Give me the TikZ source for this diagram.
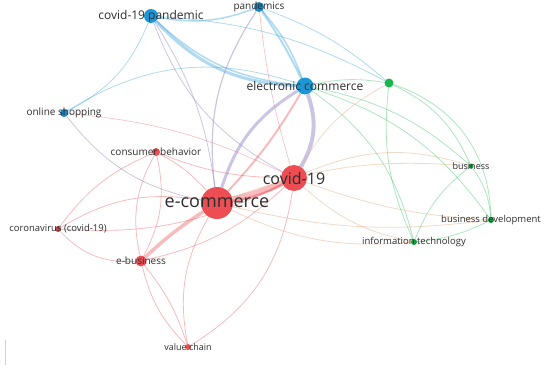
\documentclass[tikz,border=0pt]{standalone}
\usepackage{fontspec}
\setmainfont{Open Sans}
\usepackage{tikz}
\usetikzlibrary{positioning}
\definecolor{vred}{RGB}{236,78,84}
\definecolor{vblue}{RGB}{28,150,212}
\definecolor{vgreen}{RGB}{24,182,74}
\definecolor{vmix}{RGB}{160,150,205}
\definecolor{vorange}{RGB}{225,170,130}
\definecolor{vtext}{RGB}{45,45,45}
\pgfdeclarelayer{edges}
\pgfsetlayers{edges,main}

\begin{document}
\begin{tikzpicture}[x=1pt, y=-1pt,
    dot/.style={circle, inner sep=0pt, minimum size=#1},
    lab/.style={text=vtext, inner sep=0pt, font=\fontsize{#1}{#1}\selectfont},
    redE/.style={vred, opacity=0.38, line width=#1},
    redE/.default=0.8,
    blueE/.style={vblue, opacity=0.35, line width=#1},
    blueE/.default=0.8,
    greenE/.style={vgreen, opacity=0.35, line width=0.8},
    mixE/.style={vmix, opacity=0.55, line width=#1},
    mixE/.default=0.8,
    orE/.style={vorange, opacity=0.45, line width=0.8}
]
\useasboundingbox (0,0) rectangle (550,372);

% Blue cluster
\node[dot=14, fill=vblue, label={[lab=12]center:covid-19 pandemic}] (pandemic) at (151,16) {};
\node[dot=10, fill=vblue!90!black, label={[lab=10]center:pandemics}] (pandemics) at (259,7) {};
\node[dot=17, fill=vblue, label={[lab=12]center:electronic commerce}] (elec) at (305,86) {};
\node[dot=8, fill=vblue!90!black, label={[lab=10]center:online shopping}] (shopping) at (64,113) {};

% Red cluster
\node[dot=32, fill=vred, label={[lab=18]center:e-commerce}] (ecom) at (217,203) {};
\node[dot=26, fill=vred, label={[lab=16]center:covid-19}] (covid) at (294,178) {};
\node[dot=8, fill=vred, label={[lab=10]center:consumer behavior}] (consumer) at (156,152) {};
\node[dot=6, fill=vred!85!black, label={[lab=9.5]center:coronavirus (covid-19)}] (corona) at (58,229) {};
\node[dot=11, fill=vred, label={[lab=10]center:e-business}] (ebus) at (141,261) {};
\node[dot=6, fill=vred, label={[lab=9]center:value chain}] (value) at (188,347) {};

% Green cluster
\node[dot=9, fill=vgreen] (gnode) at (389,83) {};
\node[dot=5, fill=vgreen!85!black, label={[lab=9]center:business}] (business) at (471,166) {};
\node[dot=6, fill=vgreen!85!black, label={[lab=9.5]center:business development}] (bdev) at (491,220) {};
\node[dot=6, fill=vgreen!85!black, label={[lab=9.5]center:information technology}] (infotech) at (414,242) {};

% small mark bottom left
\draw[gray!35] (5,340) -- (5,365);

\begin{pgfonlayer}{edges}
% Links within and from the blue cluster
\draw[blueE=1.5, bend right=15] (pandemic) to (pandemics);
\draw[blueE=3, bend right=22] (pandemic) to (elec);
\draw[blueE=1.5, bend right=18] (pandemic) to (elec);
\draw[blueE, bend left=20] (pandemic) to (shopping);
\draw[blueE, bend left=12] (pandemic) to (gnode);
\draw[mixE, bend right=20] (pandemic) to (covid);
\draw[mixE, bend left=12] (pandemic) to (ecom);
\draw[blueE=1.5, bend left=10] (pandemics) to (elec);
\draw[blueE=2, bend left=4] (pandemics) to (elec);
\draw[mixE=1.2, bend right=20] (pandemics) to (ecom);
\draw[redE=0.6, bend right=5] (pandemics) to (covid);
\draw[blueE, bend left=10] (pandemics) to (gnode);
\draw[blueE, bend left=25] (shopping) to (elec);
\draw[redE=0.6, bend left=10] (shopping) to (covid);
\draw[mixE, bend right=20] (shopping) to (ecom);
\draw[mixE=4, bend left=25] (elec) to (covid);
\draw[mixE=3, bend right=20] (elec) to (ecom);
\draw[greenE, bend left=10] (elec) to (gnode);
\draw[greenE, bend left=15] (elec) to (business);
\draw[greenE, bend left=18] (elec) to (bdev);
\draw[greenE, bend left=20] (elec) to (infotech);

% Links within and from the red cluster
\draw[redE=6, bend left=5] (covid) to (ecom);
\draw[redE=2.5, bend left=10] (covid) to (ecom);
\draw[redE=2, bend right=6] (ecom) to (elec);
\draw[redE, bend left=25] (covid) to (value);
\draw[redE, bend left=10] (covid) to (consumer);
\draw[redE, bend left=15] (covid) to (ebus);
\draw[redE, bend left=15] (covid) to (corona);
\draw[orE, bend left=15] (covid) to (gnode);
\draw[orE, bend left=20] (covid) to (business);
\draw[orE, bend right=8] (covid) to (bdev);
\draw[orE, bend right=15] (covid) to (infotech);
\draw[redE=3.5, bend right=5] (ecom) to (ebus);
\draw[redE, bend right=20] (ecom) to (corona);
\draw[redE, bend right=10] (ecom) to (consumer);
\draw[redE, bend right=20] (ecom) to (value);
\draw[orE, bend left=12] (ecom) to (business);
\draw[orE, bend right=10] (ecom) to (bdev);
\draw[orE, bend right=15] (ecom) to (infotech);
\draw[redE, bend right=20] (consumer) to (ebus);
\draw[redE, bend left=20] (consumer) to (ebus);
\draw[redE, bend right=15] (consumer) to (corona);
\draw[redE, bend right=25] (corona) to (ebus);
\draw[redE, bend right=15] (ebus) to (value);
\draw[redE, bend left=10] (ebus) to (value);

% Links within the green cluster
\draw[greenE, bend left=35] (gnode) to (bdev);
\draw[greenE, bend left=20] (gnode) to (business);
\draw[greenE, bend right=15] (gnode) to (infotech);
\draw[greenE, bend right=15] (business) to (infotech);
\draw[greenE, bend left=15] (business) to (bdev);
\draw[greenE, bend right=10] (infotech) to (bdev);
\end{pgfonlayer}

\end{tikzpicture}
\end{document}
